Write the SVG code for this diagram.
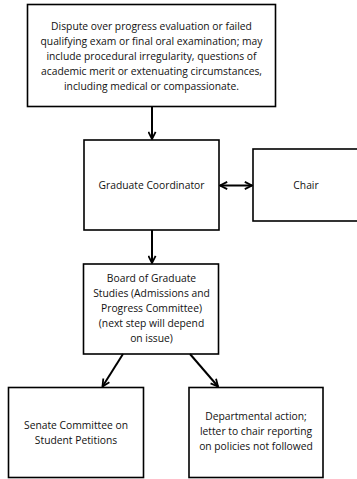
<svg xmlns="http://www.w3.org/2000/svg" width="357" height="479" viewBox="0 0 357 479">
<style>
.box{fill:#fff;stroke:#000;stroke-width:1.6}
.t{font-family:"Open Sans","Noto Sans",sans-serif;font-size:10.3px;fill:#111;text-anchor:middle}
.c{stroke:#000;stroke-width:2;fill:none}
</style>
<defs>
<marker id="ah" viewBox="0 0 10 10" refX="9" refY="5" markerWidth="4.5" markerHeight="4.5" orient="auto-start-reverse" markerUnits="strokeWidth">
<path d="M1,1 L9,5 L1,9" fill="none" stroke="#000" stroke-width="2"/>
</marker>
</defs>
<rect width="357" height="479" fill="#fff"/>
<g id="dispute">
<rect class="box" x="27.5" y="4.5" width="248" height="102"/>
<text class="t" x="151.5" y="29.5">Dispute over progress evaluation or failed</text>
<text class="t" x="151.5" y="44.5">qualifying exam or final oral examination; may</text>
<text class="t" x="151.5" y="59.5">include procedural irregularity, questions of</text>
<text class="t" x="151.5" y="74.5">academic merit or extenuating circumstances,</text>
<text class="t" x="151.5" y="90">including medical or compassionate.</text>
</g>
<g id="coordinator">
<rect class="box" x="84" y="140" width="135" height="90"/>
<text class="t" x="151.5" y="189">Graduate Coordinator</text>
</g>
<g id="chair">
<rect class="box" x="253" y="149" width="110" height="72"/>
<text class="t" x="306" y="189">Chair</text>
</g>
<g id="board">
<rect class="box" x="83.5" y="264" width="135" height="90"/>
<text class="t" x="151.5" y="282">Board of Graduate</text>
<text class="t" x="151.5" y="297">Studies (Admissions and</text>
<text class="t" x="151.5" y="312">Progress Committee)</text>
<text class="t" x="151.5" y="327">(next step will depend</text>
<text class="t" x="151.5" y="342">on issue)</text>
</g>
<g id="senate">
<rect class="box" x="8.5" y="387.5" width="135" height="90"/>
<text class="t" x="76" y="429">Senate Committee on</text>
<text class="t" x="76" y="444">Student Petitions</text>
</g>
<g id="departmental">
<rect class="box" x="189" y="387.5" width="134" height="90"/>
<text class="t" x="256" y="420">Departmental action;</text>
<text class="t" x="256" y="435">letter to chair reporting</text>
<text class="t" x="256" y="450">on policies not followed</text>
</g>
<g id="connectors">
<line class="c" x1="152" y1="107" x2="152" y2="139" marker-end="url(#ah)"/>
<line class="c" x1="220" y1="185.5" x2="252" y2="185.5" marker-start="url(#ah)" marker-end="url(#ah)"/>
<line class="c" x1="152" y1="230" x2="152" y2="263" marker-end="url(#ah)"/>
<line class="c" x1="123" y1="354" x2="102.5" y2="386.5" marker-end="url(#ah)"/>
<line class="c" x1="190" y1="354" x2="218" y2="386.5" marker-end="url(#ah)"/>
</g>
</svg>
